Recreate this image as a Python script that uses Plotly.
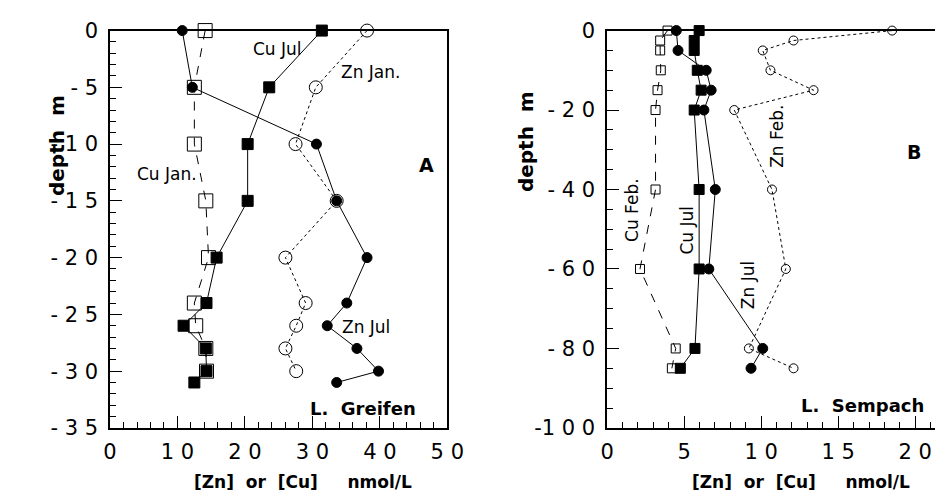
import plotly.graph_objects as go

W, H = 952, 504

# ---------------- data: panel A (L. Greifen) ----------------
depth_A_jul = [0, -5, -10, -15, -20, -24, -26, -28, -30, -31]
zn_jul_A = [10.7, 12.2, 30.6, 33.6, 38.1, 35.1, 32.2, 36.6, 39.8, 33.6]
cu_jul_A = [31.4, 23.6, 20.4, 20.4, 15.8, 14.3, 10.9, 14.2, 14.3, 12.5]
depth_A_jan = [0, -5, -10, -15, -20, -24, -26, -28, -30]
cu_jan_A = [14.1, 12.5, 12.5, 14.2, 14.6, 12.5, 12.7, 14.2, 14.3]
zn_jan_A = [38.1, 30.5, 27.5, 33.6, 26.0, 29.0, 27.6, 26.0, 27.6]

# ---------------- data: panel B (L. Sempach) ----------------
depth_B_feb = [0, -2.5, -5, -10, -15, -20, -40, -60, -80, -85]
cu_feb_B = [3.92, 3.44, 3.44, 3.48, 3.27, 3.14, 3.14, 2.13, 4.45, 4.2]
zn_feb_B = [18.5, 12.1, 10.1, 10.6, 13.4, 8.25, 10.7, 11.6, 9.2, 12.1]
depth_B_znjul = [0, -5, -10, -15, -20, -40, -60, -80, -85]
zn_jul_B = [4.49, 4.6, 6.43, 6.75, 6.28, 7.02, 6.6, 10.1, 9.34]
depth_B_cujul = [0, -2.5, -5, -10, -15, -20, -40, -60, -80, -85]
cu_jul_B = [5.97, 5.65, 5.65, 5.85, 6.1, 5.65, 5.97, 5.97, 5.7, 4.75]

# tick labels
A_yticks = [0, -5, -10, -15, -20, -25, -30, -35]
A_yticktext = ["0", "- 5", "- 1 0", "- 1 5", "- 2 0", "- 2 5", "- 3 0", "- 3 5"]
A_xticks = [0, 10, 20, 30, 40, 50]
A_xticktext = ["0", "1 0", "2 0", "3 0", "4 0", "5 0"]
B_yticks = [0, -20, -40, -60, -80, -100]
B_yticktext = ["0", "- 2 0", "- 4 0", "- 6 0", "- 8 0", "-1 0 0"]
B_xticks = [0, 5, 10, 15, 20]
B_xticktext = ["0", "5", "1 0", "1 5", "2 0"]

FONT = "DejaVu Sans"

def px(x, y):
    return x / W, 1 - y / H

fig = go.Figure()

def add(xs, ys, xa, ya, symbol, size, dash, lw=1.0):
    fig.add_trace(go.Scatter(
        x=xs, y=ys, xaxis=xa, yaxis=ya, mode="lines+markers",
        line=dict(color="black", width=lw, dash=dash),
        marker=dict(symbol=symbol, size=size, color="black",
                    line=dict(color="black", width=1)),
        cliponaxis=False, showlegend=False))

# Panel A
add(cu_jan_A, depth_A_jan, "x", "y", "square-open", 14, "dash")
add(zn_jan_A, depth_A_jan, "x", "y", "circle-open", 13, "dot")
add(cu_jul_A, depth_A_jul, "x", "y", "square", 11, "solid")
add(zn_jul_A, depth_A_jul, "x", "y", "circle", 10, "solid")
# Panel B
add(cu_feb_B, depth_B_feb, "x2", "y2", "square-open", 9, "dash")
add(zn_feb_B, depth_B_feb, "x2", "y2", "circle-open", 9, "dot")
add(cu_jul_B, depth_B_cujul, "x2", "y2", "square", 10, "solid")
add(zn_jul_B, depth_B_znjul, "x2", "y2", "circle", 10, "solid")

tickfont = dict(family=FONT, size=21, color="black")

def axis(domain, rng, tickvals, ticktext, minor_vals, anchor, mirror):
    return dict(domain=domain, range=rng, tickmode="array", tickvals=tickvals,
                ticktext=ticktext, ticks="inside", ticklen=12, tickwidth=1,
                tickcolor="black", showline=True, linecolor="black", linewidth=1.5,
                mirror=mirror, showgrid=False, zeroline=False, anchor=anchor,
                tickfont=tickfont,
                minor=dict(tickmode="array", tickvals=minor_vals, ticks="inside",
                           ticklen=6, tickwidth=1, tickcolor="black", showgrid=False))

A_xdom = [105.7 / W, 451.7 / W]
B_xdom = [615.7 / W, 1.0]
ydom = [1 - 436.7 / H, 1 - 19.5 / H]

A_xminor = list(range(0, 51, 2))
A_yminor = list(range(-35, 1, 1))
B_xminor = list(range(0, 22, 1))
B_yminor = list(range(-100, 1, 5))

fig.update_layout(
    width=W, height=H, autosize=False, margin=dict(l=0, r=0, t=0, b=0, pad=0),
    paper_bgcolor="white", plot_bgcolor="white",
    xaxis=axis(A_xdom, [0, 50], A_xticks, A_xticktext, A_xminor, "y", True),
    yaxis=axis(ydom, [-35, 0], A_yticks, A_yticktext, A_yminor, "x", True),
    xaxis2=axis(B_xdom, [0, (952 - 615.7) / 15.8], B_xticks, B_xticktext, B_xminor, "y2", True),
    yaxis2=axis(ydom, [-100, 0], B_yticks, B_yticktext, B_yminor, "x2", False),
)
fig.update_xaxes(ticklabelstandoff=4)
fig.update_yaxes(ticklabelstandoff=6)

NB = "\u00a0"
ann = []

def label(text, x, y, size=17, bold=False, angle=0):
    xx, yy = px(x, y)
    t = f"<b>{text}</b>" if bold else text
    ann.append(dict(text=t, x=xx, y=yy, xref="paper", yref="paper",
                    xanchor="center", yanchor="middle", showarrow=False,
                    textangle=angle,
                    font=dict(family=FONT, size=size, color="black")))

# axis titles
label("depth" + NB * 2 + "m", 52, 140, size=20, bold=True, angle=-90)
label("depth" + NB * 2 + "m", 532, 136, size=20, bold=True, angle=-90)
xt = "[Zn]" + NB * 2 + "or" + NB * 2 + "[Cu]" + NB * 5 + "nmol/L"
label(xt, 304, 493, size=17, bold=True)
label(xt, 815, 493, size=17, bold=True)

# panel A labels
label("Cu Jul", 277, 39)
label("Zn Jan.", 373, 63)
label("Cu Jan.", 164, 170)
label("A", 430, 161, size=19, bold=True)
label("Zn Jul", 368, 331)
label("L." + NB * 2 + "Greifen", 365, 416, size=18, bold=True)

# panel B labels
label("Zn Feb.", 790, 131, angle=-90)
label("B", 930, 147, size=19, bold=True)
label("Cu Feb.", 641, 208, angle=-90)
label("Cu Jul", 698, 229, angle=-90)
label("Zn Jul", 760, 287, angle=-90)
label("L." + NB * 2 + "Sempach", 878, 413, size=18, bold=True)

fig.update_layout(annotations=ann)

fig.write_html("out.html")
